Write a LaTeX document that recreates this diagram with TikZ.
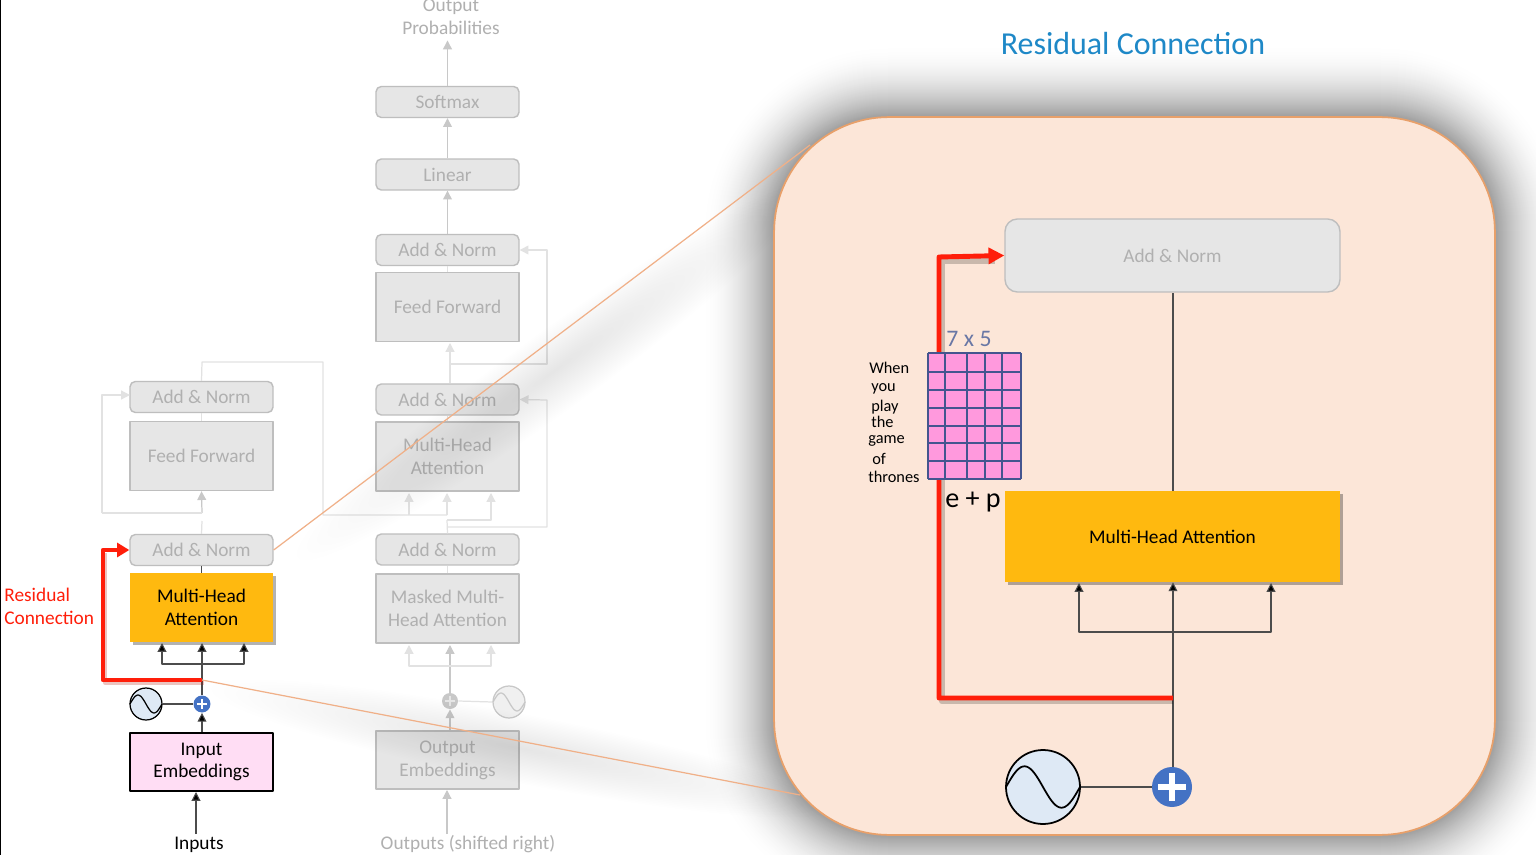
\documentclass[tikz,border=0pt]{standalone}
\usepackage{fontspec}
\setmainfont{Carlito}
\usetikzlibrary{arrows.meta,shadows,fadings}
\definecolor{boxgrey}{HTML}{E6E6E6}
\definecolor{edgegrey}{HTML}{BEBEBE}
\definecolor{textgrey}{HTML}{B0B0B0}
\definecolor{wiregrey}{HTML}{E2E2E2}
\definecolor{tipgrey}{HTML}{C8C8C8}
\definecolor{attnorange}{HTML}{FFB90F}
\definecolor{embedpink}{HTML}{FFDDF4}
\definecolor{panelfill}{HTML}{FCE6D8}
\definecolor{paneledge}{HTML}{E8A06A}
\definecolor{zoomline}{HTML}{F0B088}
\definecolor{redline}{HTML}{FF1E0A}
\definecolor{plusblue}{HTML}{4472C4}
\definecolor{sineblue}{HTML}{DEE9F5}
\definecolor{gridpink}{HTML}{FF99DD}
\definecolor{gridblue}{HTML}{44558F}
\definecolor{titleblue}{HTML}{1E88C7}
\tikzfading[name=smudge,inner color=transparent!90,outer color=transparent!100]
\newcommand{\sinewave}[3]{\draw[#3,shift={(#1.center)},smooth,samples=40,domain=-1:1] plot ({#2*\x},{0.56*#2*sin(180*\x)});}
\newcommand{\pluscross}[3]{\draw[#3,shift={(#1.center)}] (-#2,0)--(#2,0) (0,-#2)--(0,#2);}
\tikzset{
greytext/.style={text=textgrey,font=\fontsize{11}{13}\selectfont,align=center},
blacktext/.style={text=black,font=\fontsize{11}{13}\selectfont,align=center},
addnorm/.style={draw=edgegrey,line width=0.8pt,fill=boxgrey,rounded corners=3pt,minimum width=2.86cm,minimum height=0.62cm,inner sep=0pt,greytext},
greybox/.style={draw=edgegrey,line width=0.8pt,fill=boxgrey,minimum width=2.86cm,minimum height=1.38cm,inner sep=0pt,greytext},
attnbox/.style={fill=attnorange,minimum width=2.86cm,minimum height=1.38cm,inner sep=0pt,blacktext,drop shadow={shadow xshift=1.5pt,shadow yshift=-1.5pt,fill=black,opacity=.3}},
embedbox/.style={draw=black,line width=0.8pt,fill=embedpink,minimum width=2.86cm,minimum height=1.16cm,inner sep=0pt,blacktext},
greywire/.style={draw=wiregrey,line width=0.7pt},
greyarrow/.style={draw=tipgrey,line width=0.7pt,-{Triangle[width=5pt,length=5pt]},tipgrey},
blackwire/.style={draw=black!70,line width=0.6pt},
blackarrow/.style={draw=black!70,line width=0.6pt,-{Triangle[width=5pt,length=5pt,fill=black]}},
redwire/.style={draw=redline,line width=#1,line join=round},
zoomwire/.style={draw=zoomline,line width=0.7pt},
sinecircle/.style={circle,draw=black,line width=0.7pt,fill=sineblue,inner sep=0pt},
pluscircle/.style={circle,fill=plusblue,inner sep=0pt},
smalllabel/.style={text=black,font=\fontsize{9.3}{11}\selectfont,inner sep=0pt,anchor=base west}
}
\begin{document}
\begin{tikzpicture}[x=0.02cm,y=-0.02cm,line join=round,>=stealth]
\useasboundingbox (0,0) rectangle (1536,855);
\clip (0,0) rectangle (1536,855);
\fill[white] (0,0) rectangle (1536,855);
\fill[black] (0,0) rectangle (1.5,855);
% encoder
\node[addnorm] (encnormb) at (201.5,397) {Add \& Norm};
\node[greybox] (encff) at (201.5,456) {Feed Forward};
\node[addnorm] (encnorma) at (201.5,550) {Add \& Norm};
\node[attnbox] (encattn) at (201.5,607.5) {Multi-Head\\Attention};
\node[embedbox] (inembed) at (201.5,762) {Input\\Embeddings};
\node[blacktext] (inputs) at (199,845) {Inputs};
\node[text=redline,font=\fontsize{11}{13}\selectfont,align=left,inner sep=0pt,anchor=west] (reslabel) at (4,606) {Residual\\Connection};
\node[sinecircle,minimum size=0.64cm] (insine) at (146,704) {};
\sinewave{insine}{16}{black,line width=0.7pt}
\node[pluscircle,minimum size=0.34cm] (inplus) at (202,704) {};
\pluscross{inplus}{5}{white,line width=1.3pt}
\coordinate (encgap) at (202,513);
\coordinate (encout) at (323,515);
\coordinate (encleft) at (102,513);
\draw[blackwire] (insine.east)--(inplus.west);
\draw[blackarrow] (inembed.north-|inplus)--(inplus.south);
\draw[blackarrow] (196,834)--(196,792);
\coordinate (enctap) at (202,664);
\coordinate (encstart) at (202,680);
\draw[blackwire] (inplus.north)--(encstart);
\draw[blackarrow] (encstart)--(202,643);
\draw[blackarrow] (enctap)-|(162,643);
\draw[blackarrow] (enctap)-|(244,643);
\draw[blackwire] (encattn.north)--(encnorma.south);
\draw[redline!70!black,opacity=.25,line width=2.6pt] (encstart)++(1.5,2.5)-|(105,552.5);
\draw[redwire=2.4pt,-{Triangle[width=8pt,length=7pt]}] (encstart)-|(103,550)--(encnorma.west);
% encoder, faded part
\draw[greywire] (encnorma.north)--(202,521);
\draw[greyarrow] (encgap)--(encff.south);
\draw[greywire] (encgap)--(encleft);
\draw[greyarrow,draw=wiregrey] (encleft)|-(130,395);
\draw[greywire] (encff.north)--(encnormb.south);
% decoder
\node[addnorm] (softmax) at (447.5,102) {Softmax};
\node[addnorm] (linear) at (447.5,174.5) {Linear};
\node[addnorm] (decnormc) at (447.5,250) {Add \& Norm};
\node[greybox] (decff) at (447.5,307) {Feed Forward};
\node[addnorm] (decnormb) at (447.5,399.5) {Add \& Norm};
\node[greybox] (decattn) at (447.5,456.5) {Multi-Head\\Attention};
\node[addnorm] (decnorma) at (447.5,549.5) {Add \& Norm};
\node[greybox] (maskattn) at (447.5,608.5) {Masked Multi-\\Head Attention};
\node[greybox,minimum height=1.16cm] (outembed) at (447.5,760) {Output\\Embeddings};
\node[greytext] (outputs) at (468,844) {Outputs (shifted right)};
\node[greytext] (outprob) at (451,16.5) {Output\\Probabilities};
\node[sinecircle,draw=tipgrey,fill=boxgrey!60,minimum size=0.64cm] (outsine) at (509,702) {};
\sinewave{outsine}{16}{tipgrey,line width=0.7pt}
\node[pluscircle,fill=tipgrey,minimum size=0.32cm] (outplus) at (450,701) {};
\pluscross{outplus}{5}{boxgrey,line width=1.1pt}
\draw[greywire] (outplus.east)--(outsine.west);
\draw[greyarrow] (447,834)--(447,790);
\draw[greyarrow] (outembed.north-|outplus)--(outplus.south);
\coordinate (dectap) at (450,666);
\draw[greyarrow] (outplus.north)--(450,645);
\draw[greyarrow,draw=wiregrey] (dectap)-|(409,645);
\draw[greyarrow,draw=wiregrey] (dectap)-|(491,645);
\draw[greywire] (maskattn.north)--(decnorma.south);
\coordinate (dectapb) at (447,520);
\coordinate (dectapc) at (447,527);
\draw[greywire] (decnorma.north)--(dectapb);
\draw[greyarrow,draw=wiregrey] (dectapb)-|(491,493);
\draw[greyarrow,draw=wiregrey] (dectapc)-|(547,400)--(decnormb.east);
\draw[greywire] (encnormb.north)--(202,362)--(encout|-0,362)--(encout)--(447,515);
\draw[greyarrow,draw=wiregrey] (447,515)--(447,493);
\draw[greyarrow,draw=wiregrey] (409,515)--(409,493);
\draw[greywire] (decattn.north)--(decnormb.south);
\coordinate (dectapd) at (450,364);
\draw[greyarrow,draw=wiregrey] (decnormb.north-|dectapd)--(450,343);
\draw[greyarrow,draw=wiregrey] (dectapd)-|(547,250)--(decnormc.east);
\draw[greywire] (decff.north)--(decnormc.south);
\draw[greyarrow] (decnormc.north)--(linear.south);
\draw[greyarrow] (linear.north)--(softmax.south);
\draw[greyarrow] (softmax.north)--(outprob.south-|softmax);
% shadow of the panel and zoom lines
\foreach \s in {72,71,...,0}
{\pgfmathsetmacro\shade{38*(1-\s/72)^1.9}
\fill[black!\shade,rounded corners={(115+\s)*0.02cm}] (774-\s,117-\s) rectangle (1495+\s,835+\s);}
\coordinate (zoomtop) at (810,145);
\coordinate (zoombot) at (800,795);
\begin{scope}[transform canvas={shift={(552,372)},rotate=36}]
\fill[black,path fading=smudge] (0,0) ellipse [x radius=6.4cm,y radius=0.8cm];
\end{scope}
\begin{scope}[transform canvas={shift={(520,748)},rotate=-11}]
\fill[black,path fading=smudge] (0,0) ellipse [x radius=6.4cm,y radius=0.7cm];
\end{scope}
\draw[zoomwire] (encnorma.east)--(zoomtop);
\draw[zoomwire] (encstart)--(zoombot);
% panel
\node[draw=paneledge,line width=1pt,fill=panelfill,rounded corners=2.3cm,minimum width=14.42cm,minimum height=14.36cm,inner sep=0pt] (panel) at (1134.5,476) {};
\node[text=titleblue,font=\fontsize{18.2}{21}\selectfont,inner sep=0pt] (title) at (1133,44) {Residual Connection};
\node[addnorm,rounded corners=7pt,minimum width=6.7cm,minimum height=1.46cm,fill=boxgrey,draw=edgegrey] (zoomnorm) at (1172.5,255.5) {Add \& Norm};
\node[attnbox,minimum width=6.7cm,minimum height=1.82cm] (zoomattn) at (1172.5,536.5) {Multi-Head Attention};
\node[sinecircle,line width=1pt,minimum size=1.48cm] (zoomsine) at (1043,787) {};
\sinewave{zoomsine}{37}{black,line width=1pt}
\node[pluscircle,minimum size=0.8cm] (zoomplus) at (1172,787) {};
\pluscross{zoomplus}{14}{white,line width=3.6pt}
\coordinate (zoomstart) at (1173,698);
\coordinate (zoomtap) at (1173,632);
\draw[blackwire] (zoomsine.east)--(zoomplus.west);
\draw[blackarrow] (zoomplus.north-|zoomstart)--(zoomattn.south-|zoomstart);
\draw[blackarrow] (zoomtap)-|(1079,583);
\draw[blackarrow] (zoomtap)-|(1271,583);
\draw[blackwire] (zoomattn.north-|zoomstart)--(zoomnorm.south-|zoomstart);
\draw[black,opacity=.2,line width=3pt] (1173,701.5)-|(942,261)--(995,261);
\draw[redwire=2.8pt,-{Triangle[width=9pt,length=9pt]}] (zoomstart)-|(939,257)--(zoomnorm.west);
% grid
\node[inner sep=0pt,minimum width=1.86cm,minimum height=2.52cm,fill=gridpink] (grid) at (974.5,416) {};
\foreach \gx in {928,945,967,985,1002,1021}
{\draw[gridblue,line width=0.8pt] (\gx,353)--(\gx,479);}
\foreach \gy in {353,372,390,408,426,443,461,479}
{\draw[gridblue,line width=0.8pt] (928,\gy)--(1021,\gy);}
\node[text=gridblue!80,font=\fontsize{13.5}{15}\selectfont,inner sep=0pt] (gridsize) at (969,339) {7 x 5};
\node[text=black,font=\fontsize{16}{18}\selectfont,inner sep=0pt,anchor=base] (gridsum) at (973,507) {e + p};
\node[smalllabel] (wone) at (869,373) {When};
\node[smalllabel] (wtwo) at (871,391) {you};
\node[smalllabel] (wthree) at (871,411) {play};
\node[smalllabel] (wfour) at (871,427) {the};
\node[smalllabel] (wfive) at (868,443) {game};
\node[smalllabel] (wsix) at (872,464) {of};
\node[smalllabel] (wseven) at (868,482) {thrones};
\end{tikzpicture}
\end{document}
